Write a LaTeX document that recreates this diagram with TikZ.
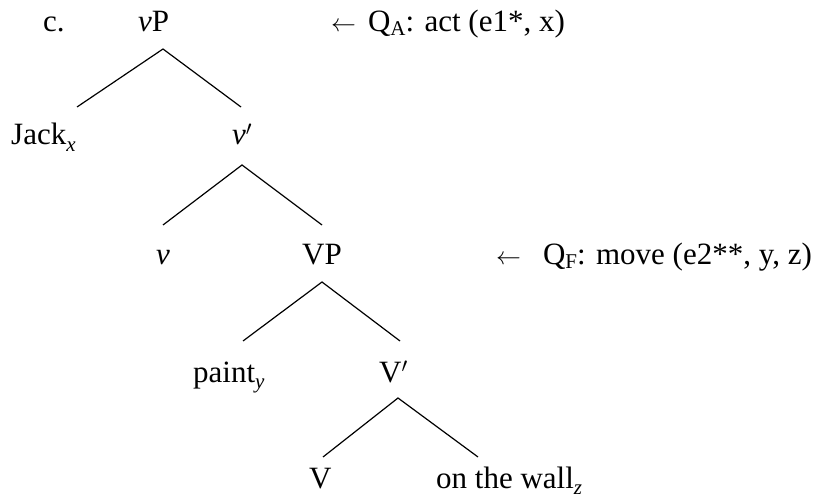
\documentclass[tikz,border=0pt]{standalone}
\usepackage{fontspec}
\setmainfont{Liberation Serif}
\newcommand{\sbi}[1]{\raisebox{-0.22em}{\fontsize{21}{21}\selectfont\itshape #1}}
\newcommand{\sbu}[1]{\raisebox{-0.1em}{\fontsize{21}{21}\selectfont #1}}
\newcommand{\larr}{{\fontsize{25}{25}\selectfont$\leftarrow$}}
\newcommand{\pr}{$'$}
\begin{document}
\begin{tikzpicture}[x=1pt,y=-1pt,
  lab/.style={anchor=base west, inner sep=0pt, font=\fontsize{31}{36}\selectfont},
  edge/.style={line width=1.2pt}]
\useasboundingbox (0,0) rectangle (819,502);
% labels
\node[lab] (c)    at (43,32)  {c.};
\node[lab] (vP)   at (138,32) {\textit{v}P};
\node[lab] (QA)   at (331,32) {\larr\hspace{12pt}Q\sbu{A}: act (e1*, x)};
\node[lab] (Jack) at (11,145) {Jack\sbi{x}};
\node[lab] (vbar) at (232,145) {\textit{v}\pr};
\node[lab] (v)    at (156,265) {\textit{v}};
\node[lab] (VP)   at (302,265) {VP};
\node[lab] (QF)   at (496,265) {\larr\hspace{22pt}Q\sbu{F}: move (e2**, y, z)};
\node[lab] (paint) at (193,382) {paint\sbi{y}};
\node[lab] (Vbar) at (379,382) {V\pr};
\node[lab] (V)    at (309,488) {V};
\node[lab] (wall) at (436,488) {on the wall\sbi{z}};
% branch points
\coordinate (vPb)   at (163,49);
\coordinate (Jackt) at (77,107);
\coordinate (vbart) at (241,107);
\coordinate (vbarb) at (242,165);
\coordinate (vt)    at (163,225);
\coordinate (VPt)   at (322,225);
\coordinate (VPb)   at (322,282);
\coordinate (paintt) at (243,341);
\coordinate (Vbart) at (400,341);
\coordinate (Vbarb) at (398,398);
\coordinate (Vt)    at (323,457);
\coordinate (wallt) at (478,457);
\draw[edge] (Jackt) -- (vPb) -- (vbart);
\draw[edge] (vt) -- (vbarb) -- (VPt);
\draw[edge] (paintt) -- (VPb) -- (Vbart);
\draw[edge] (Vt) -- (Vbarb) -- (wallt);
\end{tikzpicture}
\end{document}
